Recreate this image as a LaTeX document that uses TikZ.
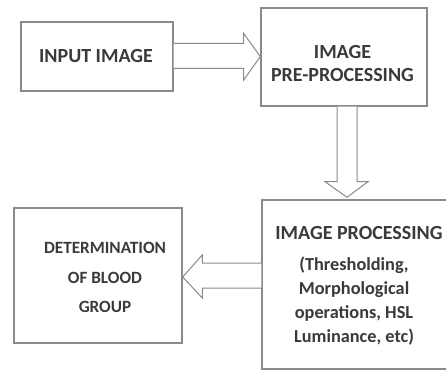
\documentclass[tikz,border=0pt]{standalone}
\usepackage{fontspec}
\setmainfont{Carlito}
\usetikzlibrary{calc}
\definecolor{linegray}{HTML}{8A8A8A}
\definecolor{textgray}{HTML}{3A3A3A}
\begin{document}
\begin{tikzpicture}[x=1pt,y=-1pt,
  box/.style={draw=linegray,line width=1.4pt,rectangle,inner sep=0pt},
  lbl/.style={text=textgray,font=\bfseries\fontsize{20}{23}\selectfont,align=center,inner sep=0pt},
  blockarrow/.style={draw=linegray,line width=1pt,fill=white,line join=miter}]
\useasboundingbox (0,0) rectangle (446,371);
\clip (0,0) rectangle (446,371);
\fill[white] (0,0) rectangle (446,371);
% boxes
\node[box,minimum width=152pt,minimum height=69pt] (in) at (97,56.5) {};
\node[box,minimum width=166pt,minimum height=98pt] (pre) at (344,57) {};
\node[box,minimum width=200pt,minimum height=169pt] (proc) at (362,284.5) {};
\node[box,minimum width=168pt,minimum height=135pt] (det) at (98,275.5) {};
% labels
\node[lbl] (tin) at (96,56) {INPUT IMAGE};
\node[lbl] (tpre) at (342.5,63.5) {IMAGE\\PRE-PROCESSING};
\node[lbl] (tproc) at (359,233) {IMAGE PROCESSING};
\node[lbl,font=\bfseries\fontsize{18.3}{24}\selectfont] (tproc2) at (354,301) {(Thresholding,\\Morphological\\operations, HSL\\Luminance, etc)};
\node[lbl,font=\bfseries\fontsize{17.2}{29.5}\selectfont] (tdet) at (105,277.5) {DETERMINATION\\OF BLOOD\\GROUP};
% arrows
\draw[blockarrow] ($(in.east)+(0,-13)$) -- ++(70,0) -- ++(0,-10) -- ($(pre.west)+(0,-0.5)$)
  -- ($(in.east)+(70,23.5)$) -- ++(0,-11.5) -- ($(in.east)+(0,12)$);
\draw[blockarrow] ($(pre.south)+(-7,0)$) -- ++(0,75) -- ++(-12,0) -- ($(proc.north)+(-15,-2)$)
  -- ($(pre.south)+(24,75)$) -- ++(-11,0) -- ($(pre.south)+(13,0)$);
\draw[blockarrow] ($(proc.west)+(0,-21.5)$) -- ++(-59,0) -- ++(0,-8) -- ($(det.east)+(0,1.5)$)
  -- ($(proc.west)+(-59,13.5)$) -- ++(0,-10) -- ($(proc.west)+(0,3.5)$);
\end{tikzpicture}
\end{document}
